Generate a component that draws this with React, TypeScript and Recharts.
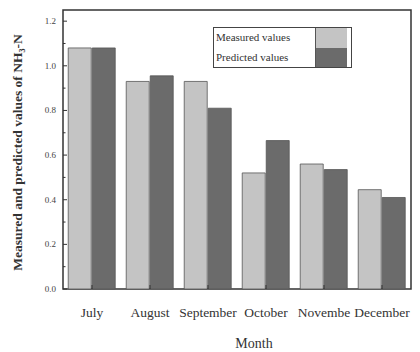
import { BarChart, Bar, XAxis, YAxis, Legend, ReferenceArea } from "recharts";

const MONTHS = ["July", "August", "September", "October", "Novembe", "December"];
const MEASURED = [1.08, 0.93, 0.93, 0.52, 0.56, 0.445];
const PREDICTED = [1.08, 0.955, 0.81, 0.665, 0.535, 0.41];
// major ticks every 0.2 carry a label, the ones between are minor marks
const Y_TICKS = [0, 0.1, 0.2, 0.3, 0.4, 0.5, 0.6, 0.7, 0.8, 0.9, 1.0, 1.1, 1.2];
const Y_MAX = 1.25;

const SERIES = [
  { key: "measured", name: "Measured values", fill: "#c4c4c4" },
  { key: "predicted", name: "Predicted values", fill: "#6b6b6b" },
];

const data = MONTHS.map((month, i) => ({
  month,
  measured: MEASURED[i],
  predicted: PREDICTED[i],
}));

const FONT = '"Liberation Serif", "DejaVu Serif", serif';
const AXIS = "#333";

const isMajor = (v: number) => Math.round(v * 10) % 2 === 0;

function LegendBox() {
  return (
    <div
      style={{
        border: "1px solid #444",
        background: "#fff",
        display: "flex",
        fontFamily: FONT,
        fontSize: 11,
        color: "#333",
        boxSizing: "border-box",
        width: 139,
        height: 41,
        lineHeight: 1,
      }}
    >
      <div style={{ flex: 1, display: "flex", flexDirection: "column", justifyContent: "space-around", paddingLeft: 2 }}>
        {SERIES.map((s) => (
          <span key={s.key}>{s.name}</span>
        ))}
      </div>
      <div style={{ width: 32, display: "flex", flexDirection: "column", marginRight: 4 }}>
        {SERIES.map((s) => (
          <div key={s.key} style={{ flex: 1, background: s.fill, borderLeft: "1px solid #555" }} />
        ))}
      </div>
    </div>
  );
}

// tick text plus a short inward mark, placed at the axis' own tick coordinate
function YTick({ x, y, payload }: any) {
  const major = isMajor(payload.value);
  return (
    <g>
      <rect x={x + 4} y={y - 0.5} width={major ? 4 : 2.5} height={1} fill={AXIS} />
      {major && (
        <text x={x - 3} y={y} dy={3} textAnchor="end" fontSize={9} fill="#444" fontFamily={FONT}>
          {Number(payload.value).toFixed(1)}
        </text>
      )}
    </g>
  );
}

function RightTick({ x, y, payload }: any) {
  const len = isMajor(payload.value) ? 4 : 2.5;
  return <rect x={x - 4 - len} y={y - 0.5} width={len} height={1} fill={AXIS} />;
}

function XTick({ x, y, payload }: any) {
  return (
    <g>
      <rect x={x - 0.5} y={y - 8} width={1} height={4} fill={AXIS} />
      <text x={x} y={y} dy={24} textAnchor="middle" fontSize={13.5} fill="#333" fontFamily={FONT}>
        {payload.value}
      </text>
    </g>
  );
}

function TopTick({ x, y }: any) {
  return <rect x={x - 0.5} y={y + 4} width={1} height={4} fill={AXIS} />;
}

export default function App() {
  return (
    <div style={{ position: "absolute", left: 0, top: 0, width: 420, height: 352, background: "#fff" }}>
      <BarChart
        width={420}
        height={352}
        data={data}
        margin={{ top: 10, right: 9, bottom: 0, left: 12 }}
        barCategoryGap="9%"
        barGap={1}
      >
        <XAxis
          dataKey="month"
          height={63}
          interval={0}
          axisLine={false}
          tickLine={false}
          tickSize={4}
          tickMargin={0}
          tick={<XTick />}
          label={{ value: "Month", position: "insideBottom", offset: 4, dx: 17, fontSize: 14, fill: "#333", fontFamily: FONT }}
        />
        <XAxis
          xAxisId="top"
          dataKey="month"
          orientation="top"
          height={0}
          interval={0}
          axisLine={false}
          tickLine={false}
          tickSize={4}
          tickMargin={0}
          tick={<TopTick />}
        />
        <YAxis
          width={51}
          domain={[0, Y_MAX]}
          ticks={Y_TICKS}
          interval={0}
          axisLine={false}
          tickLine={false}
          tickSize={4}
          tickMargin={0}
          tick={<YTick />}
          label={{
            value: "Measured and predicted values of NH₃-N",
            angle: -90,
            position: "insideLeft",
            offset: 5,
            dy: 3,
            fontSize: 13.5,
            fontWeight: "bold",
            fill: "#333",
            fontFamily: FONT,
            style: { textAnchor: "middle" },
          }}
        />
        <YAxis
          yAxisId="right"
          orientation="right"
          width={0}
          domain={[0, Y_MAX]}
          ticks={Y_TICKS}
          interval={0}
          axisLine={false}
          tickLine={false}
          tickSize={4}
          tickMargin={0}
          tick={<RightTick />}
        />
        <Legend
          layout="horizontal"
          verticalAlign="middle"
          align="center"
          wrapperStyle={{ left: 213, top: 27, width: 139, height: 41 }}
          content={() => <LegendBox />}
        />
        {SERIES.map((s) => (
          <Bar
            key={s.key}
            dataKey={s.key}
            name={s.name}
            fill={s.fill}
            stroke="#555"
            strokeWidth={0.8}
            isAnimationActive={false}
          />
        ))}
        <ReferenceArea y1={0} y2={Y_MAX} fill="none" fillOpacity={0} stroke={AXIS} strokeWidth={1.5} strokeOpacity={1} />
      </BarChart>
    </div>
  );
}
